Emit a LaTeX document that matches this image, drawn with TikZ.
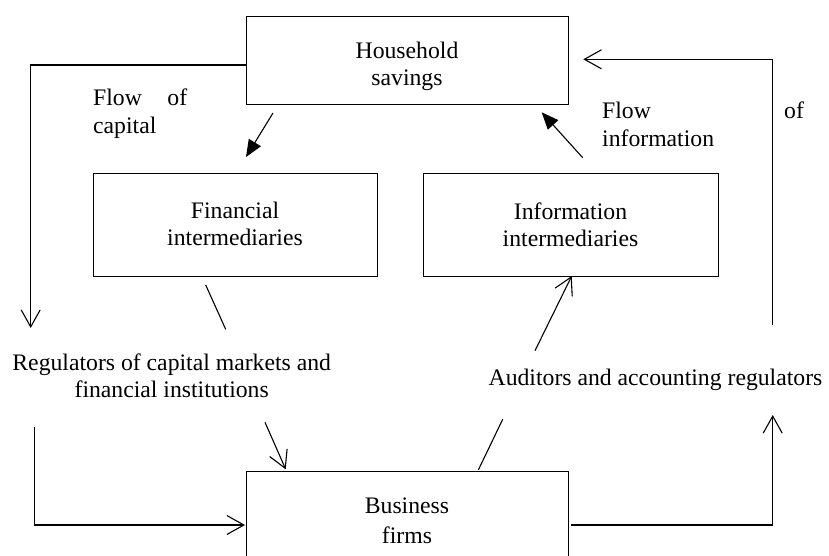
\documentclass[tikz,border=0pt]{standalone}
\usepackage{fontspec}
\setmainfont{Liberation Serif}
\usetikzlibrary{arrows.meta}
\begin{document}
\begin{tikzpicture}[x=1pt,y=-1pt,
  box/.style={draw, line width=0.8pt, inner sep=0pt},
  lbl/.style={font=\fontsize{23.7}{27}\selectfont, inner sep=0pt, align=center},
  conn/.style={line width=1.1pt},
  openarr/.style={-{Straight Barb[length=17pt,width=19pt]}},
  fillarr/.style={-{Triangle[length=17pt,width=14pt]}}]
\useasboundingbox (0,0) rectangle (829,555);
% boxes
\node[box, minimum width=322pt, minimum height=88pt] (hh) at (407,60) {};
\node[box, minimum width=284pt, minimum height=103pt] (fin) at (235,224.5) {};
\node[box, minimum width=295pt, minimum height=103pt] (inf) at (570.5,224.5) {};
\node[box, minimum width=322pt, minimum height=88pt] (bus) at (407,515) {};
% box texts (anchor base = baseline of last line)
\node[lbl, anchor=base] (hht) at (407,85) {Household\\savings};
\node[lbl, anchor=base] (fint) at (235,245) {Financial\\intermediaries};
\node[lbl, anchor=base] (inft) at (570.5,246) {Information\\intermediaries};
\node[lbl, anchor=base, font=\fontsize{23.7}{30}\selectfont] (bust) at (407,543.5) {Business\\firms};
% free labels
\node[lbl, anchor=base] (reg) at (171.7,397) {Regulators of capital markets and\\financial institutions};
\node[lbl, anchor=base] (aud) at (655.5,385) {Auditors and accounting regulators};
\node[lbl, anchor=base west, align=left] (foc) at (93,133) {\parbox[b]{94pt}{\fontsize{23.7}{28}\selectfont Flow\hfill of\\capital}};
\node[lbl, anchor=base west, align=left, font=\fontsize{23.7}{28}\selectfont] (fi) at (602,146) {Flow\\information};
\node[lbl, anchor=base west] (of) at (784,118) {of};
% coordinates
\coordinate (c1) at (30.7,65);
\coordinate (c2) at (30.7,328);
\coordinate (a1) at (273,113);
\coordinate (a2) at (246,157);
\coordinate (b1) at (582.7,157.7);
\coordinate (b2) at (541.7,112.3);
\coordinate (r1) at (772.7,325);
\coordinate (r2) at (772.7,59.3);
\coordinate (r3) at (583.3,59.3);
\coordinate (f1) at (205.7,285);
\coordinate (f2) at (225.7,329.3);
\coordinate (g1) at (265,422.3);
\coordinate (g2) at (285.7,469.3);
\coordinate (l1) at (34.3,426.7);
\coordinate (l2) at (34.3,525);
\coordinate (l3) at (245,525);
\coordinate (d1) at (478.3,470);
\coordinate (d2) at (502.7,419.3);
\coordinate (e1) at (535,350.7);
\coordinate (e2) at (571.7,276);
\coordinate (s1) at (571,525);
\coordinate (s2) at (772.7,525);
\coordinate (s3) at (772.7,415);
% connectors
\draw[conn, openarr] (hh.west |- c1) -- (c1) -- (c2);
\draw[conn, fillarr] (a1) -- (a2);
\draw[conn, fillarr] (b1) -- (b2);
\draw[conn, openarr] (r1) -- (r2) -- (r3);
\draw[conn] (f1) -- (f2);
\draw[conn, openarr] (g1) -- (g2);
\draw[conn, openarr] (l1) -- (l2) -- (l3);
\draw[conn] (d1) -- (d2);
\draw[conn, openarr] (e1) -- (e2);
\draw[conn, openarr] (s1) -- (s2) -- (s3);
\end{tikzpicture}
\end{document}
